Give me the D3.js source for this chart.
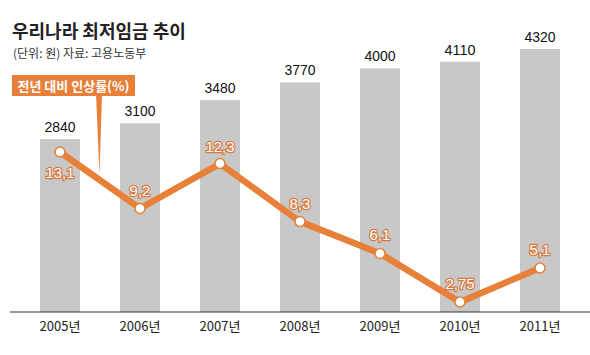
<!DOCTYPE html>
<html><head><meta charset="utf-8">
<script src="https://cdn.jsdelivr.net/npm/d3@7/dist/d3.min.js"></script>
<style>
body{margin:0;background:#fff;}
text{font-family:"Liberation Sans",Arial,sans-serif;}
.kr{font-family:"Noto Sans CJK KR","Noto Sans",sans-serif;}
</style></head>
<body><svg id="c" width="590" height="355"></svg>
<script>
const years = ["2005년","2006년","2007년","2008년","2009년","2010년","2011년"];
const wages = [2840,3100,3480,3770,4000,4110,4320];
const rates = [13.1,9.2,12.3,8.3,6.1,2.75,5.1];
const rateLabels = ["13,1","9,2","12,3","8,3","6,1","2,75","5,1"];

const svg = d3.select("#c");
const orange = "#e8803a";
const x = d3.scaleBand().domain(years).range([20,580]).paddingInner(0.5).paddingOuter(0.25);
const y = d3.scaleLinear().domain([0,4320]).range([312,49]);
const y2 = d3.scaleLinear().domain([2.75,13.1]).range([302,152]);

// bars
svg.selectAll("rect.bar").data(wages).enter().append("rect")
  .attr("x",(d,i)=>x(years[i])).attr("width",x.bandwidth())
  .attr("y",d=>y(d)).attr("height",d=>y(0)-y(d)).attr("fill","#c8c8c8");
svg.selectAll("text.wl").data(wages).enter().append("text")
  .attr("x",(d,i)=>x(years[i])+x.bandwidth()/2).attr("y",d=>y(d)-7)
  .attr("text-anchor","middle").attr("font-size",14).attr("fill","#111")
  .attr("textLength",31).attr("lengthAdjust","spacingAndGlyphs").text(d=>d);

// axis
const ax = svg.append("g").attr("transform","translate(0,312)")
  .call(d3.axisBottom(x).tickSize(0).tickPadding(10));
ax.select(".domain").attr("d","M10,0H590").attr("stroke","#333").attr("stroke-width",1.2);
ax.selectAll("text").attr("class","kr").attr("font-size",13).attr("fill","#222")
  .style("font-family","'Noto Sans CJK KR',sans-serif");

// title
svg.append("text").attr("class","kr").attr("x",12).attr("y",38).attr("font-size",18).attr("font-weight","bold").attr("fill","#222").text("우리나라 최저임금 추이");
svg.append("text").attr("class","kr").attr("x",13).attr("y",58).attr("font-size",12).attr("fill","#333").text("(단위: 원) 자료: 고용노동부");

// legend box and pointer
svg.append("path").attr("d","M96,94 L102,94 L99.5,174 Z").attr("fill",orange);
svg.append("rect").attr("x",12).attr("y",75).attr("width",123).attr("height",21).attr("fill",orange);
svg.append("text").attr("class","kr").attr("x",73.5).attr("y",90.5).attr("text-anchor","middle")
  .attr("font-size",13).attr("font-weight","bold").attr("fill","#fff").text("전년 대비 인상률(%)");

// line
const cx = i=>x(years[i])+x.bandwidth()/2;
svg.append("path").datum(rates)
  .attr("d",d3.line().x((d,i)=>cx(i)).y(d=>y2(d)))
  .attr("fill","none").attr("stroke",orange).attr("stroke-width",6.5).attr("stroke-linejoin","miter");
svg.selectAll("circle.pt").data(rates).enter().append("circle")
  .attr("cx",(d,i)=>cx(i)).attr("cy",d=>y2(d)).attr("r",5)
  .attr("fill","#fff").attr("stroke",orange).attr("stroke-width",1.5);

const offs = [[0,26],[0,-13],[0,-12],[0,-13],[0,-13],[0,-13],[0,-13]];
svg.selectAll("text.rl").data(rates).enter().append("text")
  .attr("x",(d,i)=>cx(i)+offs[i][0]).attr("y",(d,i)=>y2(d)+offs[i][1])
  .attr("text-anchor","middle").attr("font-size",15)
  .attr("fill","#fff").attr("stroke","#d9783a").attr("stroke-width",2.4).attr("stroke-linejoin","round").attr("paint-order","stroke")
  .text((d,i)=>rateLabels[i]);
</script></body></html>
